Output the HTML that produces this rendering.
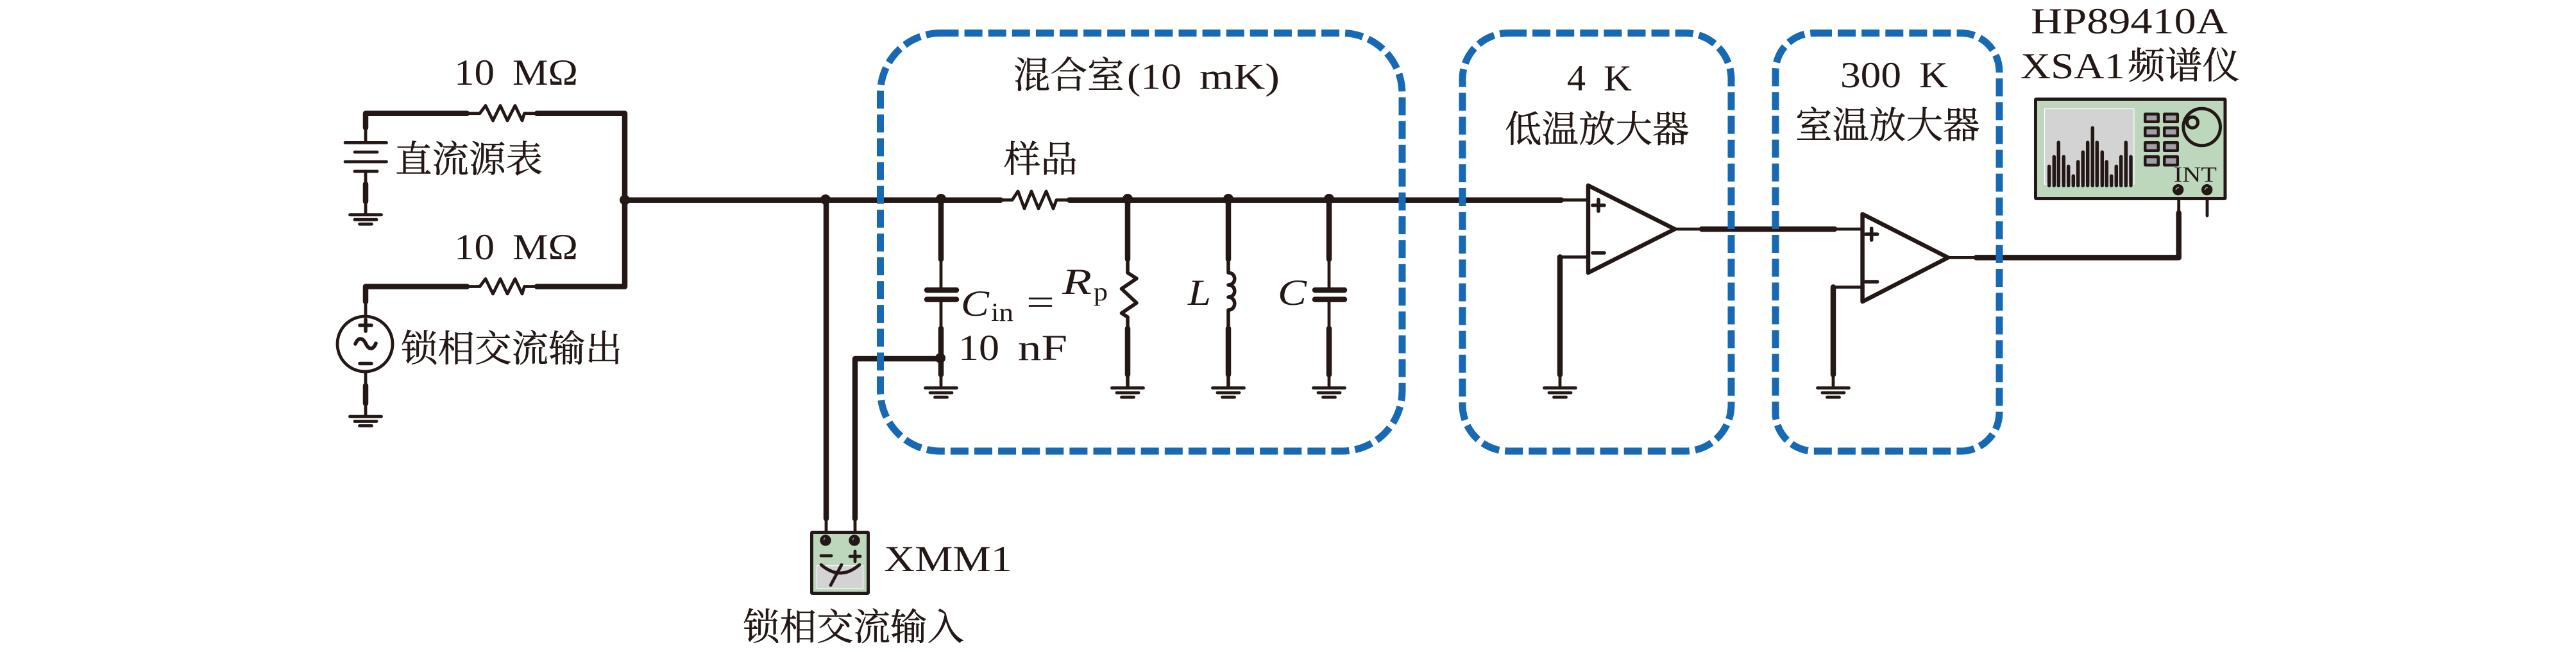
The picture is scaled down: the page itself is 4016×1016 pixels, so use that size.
<!DOCTYPE html>
<html lang="zh">
<head>
<meta charset="utf-8">
<title>Circuit diagram</title>
<style>
html,body{margin:0;padding:0;background:#fff;}
svg{display:block;}
.w{fill:none;stroke:#231815;stroke-linecap:round;stroke-linejoin:round;}
.k{stroke-width:8.5;}
.n{stroke-width:4.8;}
.p{stroke-width:5.6;}
.box{fill:none;stroke:#1769b3;stroke-width:11;stroke-dasharray:28 9.1;}
.d{fill:#231815;}
text{fill:#231815;font-family:"Liberation Serif","Noto Serif CJK SC",serif;font-size:57px;}
.cn{font-family:"Liberation Serif","Noto Serif CJK SC",serif;font-size:57.5px;stroke:#231815;stroke-width:.5px;}
.i{font-style:italic;}
.s{font-size:40px;}
</style>
</head>
<body>
<svg width="4016" height="1016" viewBox="0 0 4016 1016" xmlns="http://www.w3.org/2000/svg">
<defs>
<g id="g" class="w n" stroke-linecap="butt">
  <path d="M-24.5 0H24.5M-17 7.5H17M-9.5 14.5H9.5"/>
</g>
</defs>
<rect width="4016" height="1016" fill="#fff"/>

<!-- left network -->
<path class="w k" d="M570 199V176.7H728M837 176.7H974V446.5H837M728 446.5H570V470"/>
<path class="w n" d="M728 176.7H748L757 164.5L768.5 188L780 164.5L791 188L803 164.5L814 188L817.5 176.7H837"/>
<path class="w n" d="M728 446.5H748L757 434.5L768.5 458L780 434.5L791 458L803 434.5L814 458L817.5 446.5H837"/>
<path class="w n" d="M570 199V222M570 267V332M570 470V491M570 581V647"/>
<path class="w k" d="M570 287V314M570 601V628.6"/>
<path class="w n" stroke-linecap="butt" d="M538 222.4H602.5M553 237H588M538 252H602.5M553 267H588"/>
<use href="#g" x="570" y="334.7"/>
<use href="#g" x="570" y="649"/>
<circle cx="569" cy="536" r="43" class="w n" fill="#fff"/>
<path class="w p" d="M561 507H579M570 498V516M561 566.5H579"/>
<path class="w p" d="M554 536C559 524 566 527 570 535C574 544 581 547 586 535"/>
<circle cx="974" cy="311.5" r="8" class="d"/>

<text x="708" y="132" textLength="63" lengthAdjust="spacingAndGlyphs">10</text>
<text x="799" y="132" textLength="102" lengthAdjust="spacingAndGlyphs">MΩ</text>
<text x="708" y="404" textLength="63" lengthAdjust="spacingAndGlyphs">10</text>
<text x="799" y="404" textLength="102" lengthAdjust="spacingAndGlyphs">MΩ</text>
<text class="cn" x="616" y="268">直流源表</text>
<text class="cn" x="625" y="563">锁相交流输出</text>

<!-- main wire -->
<path class="w k" d="M974 311.7H1560M1667 311.7H2434"/>
<path class="w n" d="M1560 311.7H1578L1587 298L1597 325L1608 298L1619 325L1631 298L1642 325L1647 311.7H1667M2434 311.7H2476"/>
<circle cx="1287" cy="311" r="8" class="d"/>
<circle cx="1467" cy="310" r="8" class="d"/>
<circle cx="1758" cy="310" r="8" class="d"/>
<circle cx="1915" cy="310" r="8" class="d"/>
<circle cx="2072" cy="310" r="8" class="d"/>

<!-- XMM wires -->
<path class="w k" d="M1288 311.7V808M1333 808V559H1467"/>
<path class="w n" d="M1288 808V835M1333 808V835"/>
<circle cx="1466" cy="558" r="8" class="d"/>

<!-- Cin -->
<path class="w k" d="M1467 311.7V404M1467 512V583.6"/>
<path class="w n" d="M1467 404V452M1467 467V601"/>
<path class="w k" d="M1445 452H1491M1445 466.6H1491"/>
<use href="#g" x="1467" y="604.5"/>

<!-- Rp -->
<path class="w k" d="M1758 311.7V404M1758 512V583.6"/>
<path class="w p" d="M1758 404V425L1772 434L1748.5 450L1772 472L1748.5 488L1758 494V601"/>
<use href="#g" x="1758" y="604.5"/>

<!-- L -->
<path class="w k" d="M1915 311.7V404M1915 512V583.6"/>
<path class="w p" d="M1915 404V425C1928 425 1928 444 1915 444C1928 444 1928 463 1915 463C1928 463 1928 483 1915 483V601"/>
<use href="#g" x="1915" y="604.5"/>

<!-- C -->
<path class="w k" d="M2072 311.7V404M2072 512V583.6"/>
<path class="w n" d="M2072 404V452M2072 467V601"/>
<path class="w k" d="M2050 452H2096M2050 466.6H2096"/>
<use href="#g" x="2072" y="604.5"/>

<!-- Labels mixing chamber -->
<text class="cn" x="1580" y="137">混合室</text>
<text x="1757" y="138.5" textLength="85" lengthAdjust="spacingAndGlyphs">(10</text>
<text x="1870" y="138.5" textLength="125" lengthAdjust="spacingAndGlyphs">mK)</text>
<text class="cn" x="1565" y="268">样品</text>
<text class="i" x="1498" y="492" textLength="44" lengthAdjust="spacingAndGlyphs">C</text>
<text class="s" x="1545" y="500" textLength="35" lengthAdjust="spacingAndGlyphs">in</text>
<text x="1600" y="490" textLength="44" lengthAdjust="spacingAndGlyphs">=</text>
<text x="1494" y="561" textLength="64" lengthAdjust="spacingAndGlyphs">10</text>
<text x="1587" y="561" textLength="77" lengthAdjust="spacingAndGlyphs">nF</text>
<text class="i" x="1656" y="458" textLength="46" lengthAdjust="spacingAndGlyphs">R</text>
<text class="s" x="1705" y="468" textLength="22" lengthAdjust="spacingAndGlyphs">p</text>
<text class="i" x="1852" y="475" textLength="36" lengthAdjust="spacingAndGlyphs">L</text>
<text class="i" x="1992" y="475" textLength="45" lengthAdjust="spacingAndGlyphs">C</text>

<!-- Op amp 1 -->
<path class="w" stroke-width="6.5" d="M2476 289L2611 357L2476 425Z" fill="#fff"/>
<path class="w p" d="M2483 320H2501M2492 311V329M2483 394H2501"/>
<path class="w n" d="M2611 357H2653M2860 357H2903M2476 400.5H2432"/>
<path class="w k" d="M2653 357H2860M2432 400.5V583.6"/>
<path class="w n" d="M2432 583.6V601"/>
<use href="#g" x="2432" y="604.5"/>
<text x="2443" y="141" textLength="29" lengthAdjust="spacingAndGlyphs">4</text>
<text x="2500" y="141" textLength="44" lengthAdjust="spacingAndGlyphs">K</text>
<text class="cn" x="2346" y="221">低温放大器</text>

<!-- Op amp 2 -->
<path class="w" stroke-width="6.5" d="M2903.6 333.6L3037 401.4L2903.6 470Z" fill="#fff"/>
<path class="w p" d="M2908.7 365H2926.7M2917.7 356V374M2908.7 439H2926.7"/>
<path class="w n" d="M3037 401.4H3081M2903 447.4H2858"/>
<path class="w k" d="M3081 401.4H3396.7V332M2858 447.4V583.6"/>
<path class="w n" d="M2858 583.6V601M3396.7 332V296M3441 296V336"/>
<use href="#g" x="2858" y="604.5"/>
<text x="2869" y="136" textLength="95" lengthAdjust="spacingAndGlyphs">300</text>
<text x="2992" y="136" textLength="45" lengthAdjust="spacingAndGlyphs">K</text>
<text class="cn" x="2799" y="215">室温放大器</text>

<!-- Instrument -->
<rect x="3173.5" y="154.5" width="295.5" height="155" rx="1" fill="#bdd7bc" stroke="#231815" stroke-width="5"/>
<rect x="3187.5" y="169.5" width="139.5" height="117.5" fill="#d3d3d3" stroke="#fff" stroke-width="1.2"/>
<g class="w" stroke-width="5.5">
<path d="M3194.7 289V259.3M3202.3 289V244.3M3209.3 289V222M3217.3 289V244.3M3224.7 289V259.3M3232.3 289V274.3M3239.7 289V252M3247.3 289V237M3254.7 289V222M3262.3 289V199.3M3269.3 289V222M3277.3 289V237M3284.3 289V252M3291.7 289V274.3M3299.3 289V259.3M3306.7 289V244.3M3314.3 289V222M3322 289V244.3"/>
</g>
<g fill="#231815">
<rect x="3342" y="175.5" width="25" height="16.5" rx="2.5"/><rect x="3372" y="175.5" width="25" height="16.5" rx="2.5"/>
<rect x="3342" y="197" width="25" height="17" rx="2.5"/><rect x="3372" y="197" width="25" height="17" rx="2.5"/>
<rect x="3342" y="220" width="25" height="17" rx="2.5"/><rect x="3372" y="220" width="25" height="17" rx="2.5"/>
<rect x="3342" y="242" width="25" height="17.5" rx="2.5"/><rect x="3372" y="242" width="25" height="17.5" rx="2.5"/>
</g>
<g fill="#a1a0a7">
<rect x="3346.5" y="180" width="16" height="7.5"/><rect x="3376.5" y="180" width="16" height="7.5"/>
<rect x="3346.5" y="201.5" width="16" height="8"/><rect x="3376.5" y="201.5" width="16" height="8"/>
<rect x="3346.5" y="224.5" width="16" height="8"/><rect x="3376.5" y="224.5" width="16" height="8"/>
<rect x="3346.5" y="246.5" width="16" height="8.5"/><rect x="3376.5" y="246.5" width="16" height="8.5"/>
</g>
<circle cx="3432.7" cy="198" r="28.8" fill="none" stroke="#231815" stroke-width="5"/>
<circle cx="3418" cy="190.7" r="8.5" fill="none" stroke="#231815" stroke-width="5"/>
<text x="3389" y="283" style="font-size:34px" textLength="67" lengthAdjust="spacingAndGlyphs">INT</text>
<circle cx="3395.7" cy="295.7" r="8.7" class="d"/>
<circle cx="3440.7" cy="295.7" r="8.7" class="d"/>
<path d="M3392.5 296A3.5 3.5 0 0 1 3397 292.5M3437.5 296A3.5 3.5 0 0 1 3442 292.5" fill="none" stroke="#a1a0a7" stroke-width="1.6"/>
<text x="3166" y="52" textLength="307" lengthAdjust="spacingAndGlyphs">HP89410A</text>
<text x="3150" y="122" textLength="163" lengthAdjust="spacingAndGlyphs">XSA1</text>
<text class="cn" x="3317" y="122" textLength="175" lengthAdjust="spacingAndGlyphs">频谱仪</text>

<!-- XMM1 -->
<rect x="1265.5" y="829.5" width="88" height="95" rx="1" fill="#bdd7bc" stroke="#231815" stroke-width="5"/>
<rect x="1273.5" y="881.5" width="72" height="35.5" fill="#d3d3d3" stroke="#fff" stroke-width="1.2"/>
<circle cx="1287" cy="842" r="8.7" class="d"/>
<circle cx="1332" cy="842" r="8.7" class="d"/>
<path d="M1284.5 842A3 5 0 0 1 1286 838M1329.5 842A3 5 0 0 1 1331 838" fill="none" stroke="#a1a0a7" stroke-width="1.4"/>
<path class="w n" d="M1280 866H1296M1325 867H1341M1333 859V875M1280 880Q1310 906 1340 880M1312 880L1295 912"/>
<text x="1378" y="890" textLength="200" lengthAdjust="spacingAndGlyphs">XMM1</text>
<text class="cn" x="1158" y="997">锁相交流输入</text>

<!-- Dashed enclosures -->
<rect class="box" x="1372.5" y="51.5" width="813.5" height="651.5" rx="94" ry="94"/>
<rect class="box" x="2280" y="51.5" width="419" height="651.5" rx="72" ry="72"/>
<rect class="box" x="2768" y="51.5" width="349" height="651.5" rx="60" ry="60"/>
</svg>
</body>
</html>
